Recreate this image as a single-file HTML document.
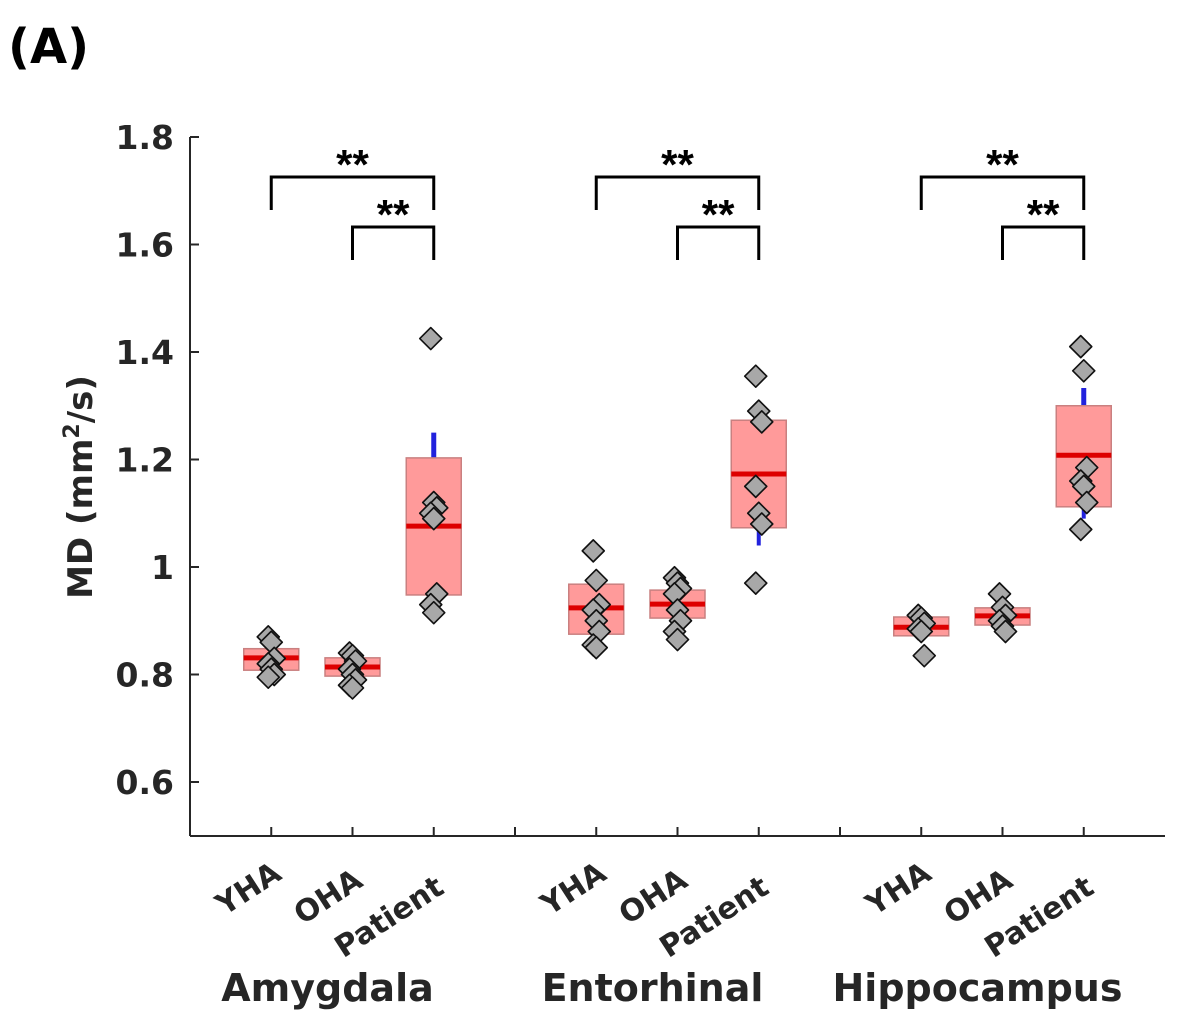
<!DOCTYPE html>
<html><head><meta charset="utf-8">
<style>
html,body{margin:0;padding:0;background:#fff;}
svg{display:block;}
text{font-family:"DejaVu Sans","Liberation Sans",sans-serif;font-weight:bold;fill:#262626;}
</style></head>
<body>
<svg id="chart" width="1182" height="1013" viewBox="0 0 1182 1013" xmlns="http://www.w3.org/2000/svg">
<text x="8" y="63" font-size="48" style="fill:#000">(A)</text>
<text transform="translate(92,487) rotate(-90)" text-anchor="middle" font-size="34">MD (mm<tspan font-size="22" dy="-13">2</tspan><tspan dy="13">/s)</tspan></text>
<g id="plot"></g>
</svg>
<script>
const regions = ["Amygdala","Entorhinal","Hippocampus"];
const groups = ["YHA","OHA","Patient"];
const yTicks = [0.6,0.8,1,1.2,1.4,1.6,1.8];
const yTickLabels = ["0.6","0.8","1","1.2","1.4","1.6","1.8"];
const boxLow = [0.808,0.797,0.948, 0.875,0.905,1.073, 0.872,0.892,1.112];
const boxHigh = [0.848,0.831,1.203, 0.968,0.957,1.273, 0.907,0.924,1.300];
const medians = [0.831,0.814,1.076, 0.924,0.931,1.173, 0.888,0.909,1.208];
const whiskerLow = [null,null,null, null,null,1.04, null,null,1.09];
const whiskerHigh = [null,null,1.25, null,null,1.28, null,null,1.333];
const points = [
  [0.87,0.86,0.83,0.82,0.81,0.80,0.795],
  [0.84,0.835,0.825,0.81,0.80,0.79,0.78,0.775],
  [1.425,1.12,1.11,1.10,1.09,0.95,0.93,0.915],
  [1.03,0.975,0.93,0.92,0.90,0.88,0.855,0.85],
  [0.98,0.97,0.96,0.95,0.92,0.90,0.88,0.865],
  [1.355,1.29,1.27,1.15,1.10,1.08,0.97],
  [0.91,0.905,0.895,0.885,0.88,0.835],
  [0.95,0.925,0.91,0.90,0.89,0.88],
  [1.41,1.365,1.185,1.16,1.15,1.12,1.07]
];
const sigLabels = ["**","**"];

const NS="http://www.w3.org/2000/svg";
const plot=document.getElementById('plot');
const X0=190,X1=1165,YB=836,YT=137;
function ys(v){return 567-(v-1)*537.5;}
function xs(i){return X0+i*(X1-X0)/12;}
function posIndex(k){return Math.floor(k/3)*4+(k%3)+1;}
function mk(tag,attrs){const e=document.createElementNS(NS,tag);for(const a in attrs)e.setAttribute(a,attrs[a]);plot.appendChild(e);return e;}

let e=mk('line',{x1:X0,y1:YT,x2:X0,y2:YB,stroke:'#262626','stroke-width':2});


e=mk('line',{x1:X0,y1:YB,x2:X1,y2:YB,stroke:'#262626','stroke-width':2});


yTicks.forEach((v,i)=>{
  const t=mk('line',{x1:X0,y1:ys(v),x2:X0+9,y2:ys(v),stroke:'#262626','stroke-width':2});
  
  
  const l=mk('text',{x:X0-16,y:ys(v)+12,'text-anchor':'end','font-size':33});
  l.textContent=yTickLabels[i];
  
  
});
for(let i=1;i<=11;i++){
  const t=mk('line',{x1:xs(i),y1:YB,x2:xs(i),y2:YB-9,stroke:'#262626','stroke-width':2});
  
  
}
for(let k=0;k<9;k++){
  const cx=xs(posIndex(k)),w=55;
  if(whiskerHigh[k]!==null){
    const wl=mk('line',{x1:cx,y1:ys(boxHigh[k]),x2:cx,y2:ys(whiskerHigh[k]),stroke:'#2222dd','stroke-width':5});
    
    
  }
  if(whiskerLow[k]!==null){
    const wl=mk('line',{x1:cx,y1:ys(boxLow[k]),x2:cx,y2:ys(whiskerLow[k]),stroke:'#2222dd','stroke-width':4});
    
    
  }
  const b=mk('rect',{x:cx-w/2,y:ys(boxHigh[k]),width:w,height:ys(boxLow[k])-ys(boxHigh[k]),fill:'#ff9a9a',stroke:'#c98080','stroke-width':1.5});
  
  
  const m=mk('line',{x1:cx-w/2,y1:ys(medians[k]),x2:cx+w/2,y2:ys(medians[k]),stroke:'#dd0000','stroke-width':5});
  
  
  points[k].forEach((v,j)=>{
    const dx=((j%3)-1)*3, y=ys(v), r=11;
    const p=mk('polygon',{points:`${cx+dx},${y-r} ${cx+dx+r},${y} ${cx+dx},${y+r} ${cx+dx-r},${y}`,fill:'#a8a8a8',stroke:'#111','stroke-width':1.6,'stroke-linejoin':'round'});
    
    
  });
}
for(let r=0;r<3;r++){
  const a=xs(r*4+1),b=xs(r*4+2),c=xs(r*4+3);
  [[a,c,177,210,0],[b,c,227,260,1]].forEach(([x1,x2,yt,yb,s])=>{
    const br=mk('path',{d:`M${x1},${yb} V${yt} H${x2} V${yb}`,fill:'none',stroke:'#000','stroke-width':3});
    
    
    const st=mk('text',{x:(x1+x2)/2,y:yt+2,'text-anchor':'middle','font-size':42,style:'fill:#000;font-family:Liberation Sans,sans-serif'});
    st.textContent=sigLabels[s];
    
    
  });
}
for(let k=0;k<9;k++){
  const cx=xs(posIndex(k));
  const dy=(k%3)*7;
  const t=mk('text',{'text-anchor':'end','font-size':30,transform:`translate(${cx+12},${878+dy}) rotate(-33)`});
  t.textContent=groups[k%3];
  
  
}
regions.forEach((r,i)=>{
  const t=mk('text',{x:xs(i*4+2)-25,y:1001,'text-anchor':'middle','font-size':38});
  t.textContent=r;
  
  
});
</script>
</body></html>
